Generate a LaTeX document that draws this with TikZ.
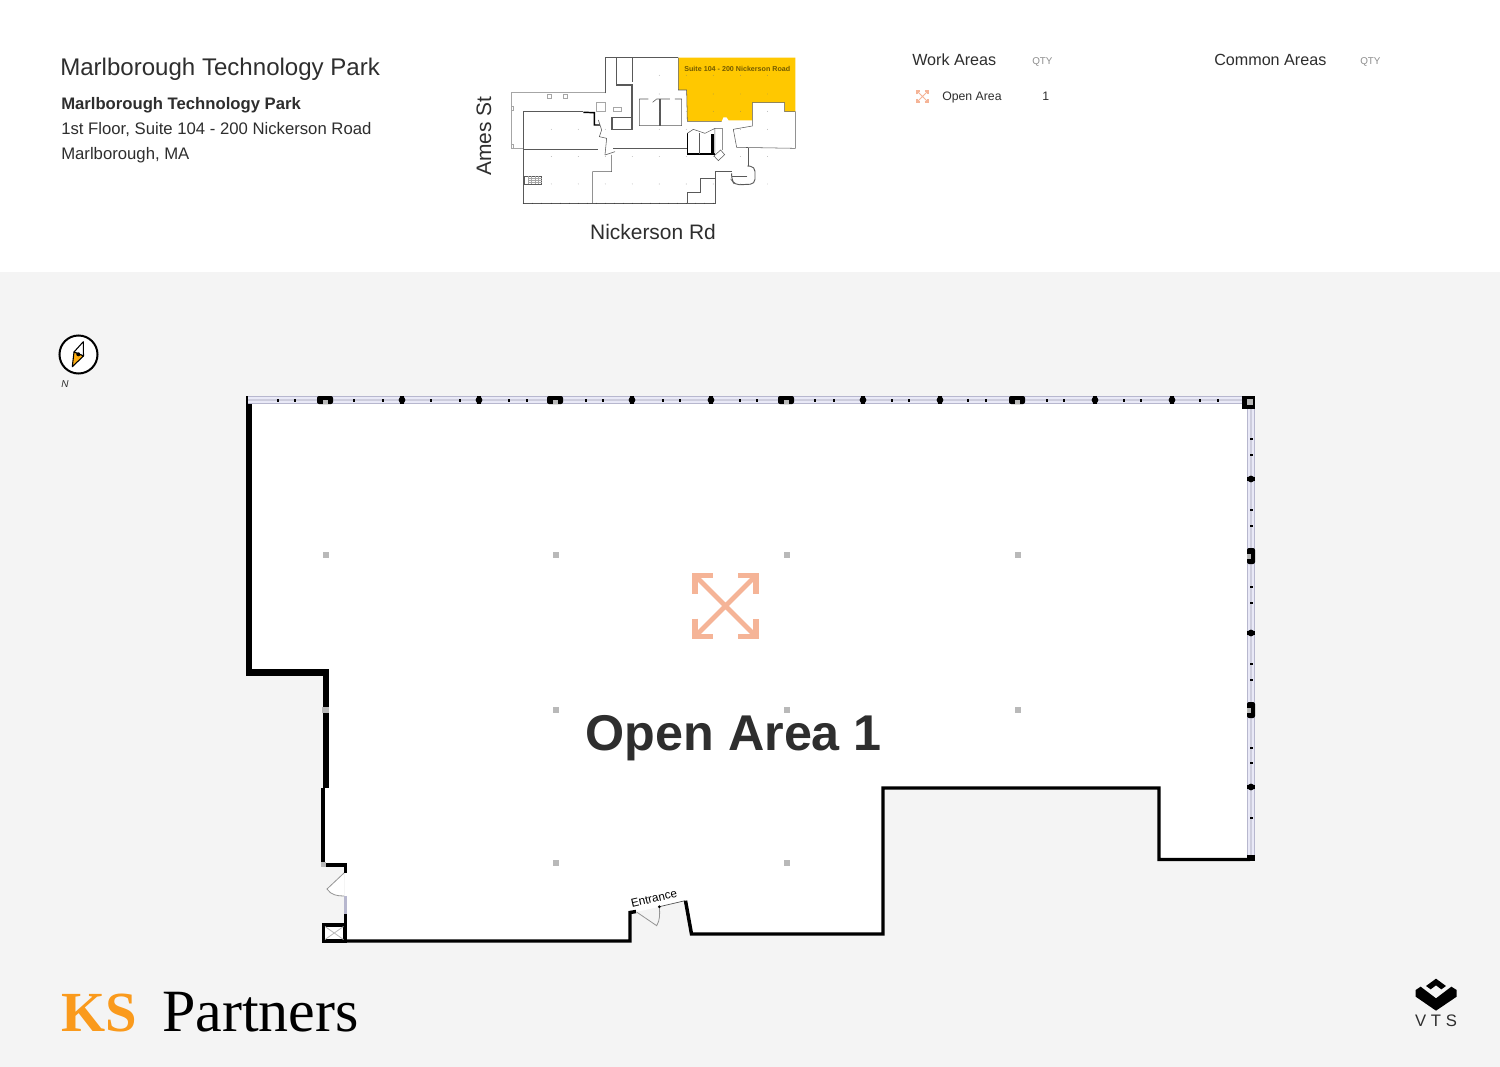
\documentclass[tikz,border=0pt]{standalone}
\usepackage{fontspec}
\setmainfont{Liberation Sans}
\newfontfamily\logofont{Liberation Serif}
\usetikzlibrary{positioning}
\definecolor{pagegrey}{HTML}{F4F4F4}
\definecolor{inkgrey}{HTML}{2E2E2E}
\definecolor{qtygrey}{HTML}{8C8C8C}
\definecolor{columngrey}{HTML}{B9B9B9}
\definecolor{glasslight}{HTML}{E9E9F7}
\definecolor{glassdark}{HTML}{B7B7CE}
\definecolor{iconpeach}{HTML}{F5B497}
\definecolor{suiteyellow}{HTML}{FFC800}
\definecolor{logoorange}{HTML}{FA9A1C}
\tikzset{
  cross width/.store in=\crosswidth,
  cross width=3.5pt,
  openicon/.pic={
    \draw[iconpeach] (-30.5,-12.5) -- (-30.5,-30.5) -- (-12.5,-30.5);
    \draw[iconpeach] (12.5,-30.5) -- (30.5,-30.5) -- (30.5,-12.5);
    \draw[iconpeach] (-30.5,12.5) -- (-30.5,30.5) -- (-12.5,30.5);
    \draw[iconpeach] (12.5,30.5) -- (30.5,30.5) -- (30.5,12.5);
    \draw[iconpeach,line width=\crosswidth] (-29,-29) -- (29,29) (-29,29) -- (29,-29);
  }
}
\begin{document}
\begin{tikzpicture}
[x=0.75pt,y=-0.75pt,
 label text/.style={anchor=base west,inner sep=0pt,text=inkgrey},
 title text/.style={label text,font=\fontsize{18.05}{20}\selectfont},
 address text/.style={label text,font=\fontsize{12.53}{15}\selectfont},
 head text/.style={label text,font=\fontsize{12.1}{15}\selectfont},
 qty text/.style={label text,text=qtygrey,font=\fontsize{7.4}{9}\selectfont},
 row text/.style={label text,font=\fontsize{9.2}{11}\selectfont},
 road text/.style={inner sep=0pt,text=inkgrey,font=\fontsize{15.7}{18}\selectfont},
 wall/.style={line width=4.6pt,line join=miter,black},
 thin wall/.style={line width=2.6pt,line join=miter,black},
 column/.style={fill=columngrey},
 mini line/.style={line width=0.4pt,black!65},
 mini grey/.style={line width=0.35pt,black!35},
 mini thick/.style={line width=1.1pt,black}]
\path[use as bounding box,fill=pagegrey] (0,0) rectangle (1500,1067);
\fill[white] (0,0) rectangle (1500,272);

\node[title text] (title) at (60,75) {Marlborough Technology Park};
\node[address text,font=\bfseries\fontsize{12.5}{15}\selectfont] (building) at (61,109) {Marlborough Technology Park};
\node[address text] (suite) at (61,134) {1st Floor, Suite 104 - 200 Nickerson Road};
\node[address text] (city) at (61,159) {Marlborough, MA};

\node[head text] (workhead) at (912,65) {Work Areas};
\node[qty text] (workqty) at (1032,64.5) {QTY};
\node[row text] (openrow) at (942,100) {Open Area};
\node[row text] (openqty) at (1042,100) {1};
\pic[scale=0.18,line width=0.8pt,cross width=0.6pt] at (922.5,96.5) {openicon};
\node[head text] (commonhead) at (1214,65) {Common Areas};
\node[qty text] (commonqty) at (1360,64.5) {QTY};

\begin{scope}[shift={(460,40)},scale=0.3333]
\fill[suiteyellow] (655,53) -- (1006,53) -- (1006,215) -- (974,215) -- (974,188) -- (877,188) -- (877,241)
  -- (806,241) -- (800,232) -- (790,232) -- (785,244) -- (682,244) -- (680,150) -- (655,150) -- cycle;
\draw[mini line] (655,53) -- (655,150) -- (680,150) -- (682,244) -- (785,244);
\draw[mini line] (877,241) -- (877,188) -- (974,188) -- (974,215) -- (1006,215) -- (1006,325) -- (830,322) -- (820,268) -- (877,258) -- (877,241);
\draw[mini grey] (435,158) -- (155,158) -- (155,325) -- (190,325);
\draw[mini grey] (262,163) rectangle (274,175) (310,163) rectangle (322,175) (155,200) rectangle (161,212) (155,314) rectangle (161,325);
\draw[mini line] (190,215) -- (370,215);
\draw[mini line] (190,215) -- (190,490) -- (765,490) -- (765,415);
\draw[mini line] (190,327) -- (415,327) (460,325) -- (680,325);
\draw[mini thick] (370,217) -- (403,218) -- (403,255) -- (420,255);
\draw[mini line,line width=0.8pt] (436,160) -- (436,53) -- (520,53) (518,53) -- (518,125) (470,53) -- (470,135) -- (518,135);
\draw[mini line] (518,53) -- (655,53);
\draw[mini line] (538,177) -- (565,177) (578,187) -- (590,177) -- (630,177) (645,177) -- (665,177) -- (665,257) -- (538,257) -- (538,177);
\draw[mini line,line width=0.8pt] (600,177) -- (600,257);
\draw[mini line] (456,232) -- (516,232);
\draw[mini line,line width=0.8pt] (516,135) -- (516,268) -- (456,268) -- (456,232);
\draw[mini grey] (410,187) rectangle (435,213) (460,202) rectangle (485,213);
\draw[mini line] (415,240) -- (425,270) -- (418,290) -- (440,295) -- (435,345);
\draw[mini line] (435,345) -- (465,335) (398,490) -- (398,395) -- (455,395) -- (455,345);
\draw[mini thick] (682,280) -- (682,342) -- (765,342);
\draw[mini line,line width=0.8pt] (718,280) -- (718,342);
\draw[black,line width=2.2pt] (757,283) -- (757,342);
\draw[mini line] (682,280) -- (700,268) -- (735,280) -- (765,265) -- (787,265) -- (787,330) (765,265) -- (765,342);
\draw[mini line] (762,348) -- (782,330) -- (794,344) -- (775,362) -- cycle;
\draw[mini line] (682,490) -- (682,458) -- (722,458) -- (722,415) -- (765,415);
\draw[mini line] (765,395) -- (765,415) (765,395) -- (815,395);
\draw[mini line] (865,325) -- (865,378) (862,410) -- (815,410);
\draw[mini line,line width=0.7pt,rounded corners=3.5pt] (862,378) -- (885,380) -- (885,432) -- (825,435) -- (815,420) -- (815,400);
\draw[mini line] (192,408) rectangle (245,432);
\foreach \yy in {414,420,426} \draw[mini grey] (205,\yy) -- (245,\yy);
\foreach \xx in {205,215,225,235} \draw[mini grey] (\xx,408) -- (\xx,432);
\foreach \xx in {274,355,436,517,598,679,760,842,923}
  \foreach \yy in {268,350,432}
    \fill[black!55] (\xx,\yy) circle (1);
\foreach \xx in {598,679,760,842,923}
  \foreach \yy in {106,162,214}
    \fill[black!55] (\xx,\yy) circle (1);
\foreach \xx in {190,217,244,274,301,328,355,382,409,436,463,490,517,544,571,598,625,652,679,706,733,760}
  \fill[black!80] (\xx,490) circle (1.3);
\node[inner sep=0pt,text=black!55!suiteyellow,font=\bfseries\fontsize{5.35}{6}\selectfont] (suitelabel) at (832,87) {Suite 104 - 200 Nickerson Road};
\end{scope}
\node[road text,rotate=90] (amesst) at (484,136) {Ames St};
\node[road text] (nickerson) at (653,232) {Nickerson Rd};

\fill[white] (246,396) -- (1255,396) -- (1255,860) -- (1159,860) -- (1159,788) -- (883,788) -- (883,934) -- (691,934)
  -- (685,901) -- (636,912) -- (630,912) -- (630,941) -- (345,941) -- (345,865) -- (323,865) -- (323,788) -- (326,788)
  -- (326,672) -- (246,672) -- cycle;

\foreach \xpos in {326,556,787,1018} \fill[column] (\xpos-3,552) rectangle (\xpos+3,558);
\foreach \xpos in {556,787,1018} \fill[column] (\xpos-3,707) rectangle (\xpos+3,713);
\foreach \xpos in {556,787} \fill[column] (\xpos-3,860) rectangle (\xpos+3,866);

\fill[glasslight] (246,396) rectangle (1255,404);
\fill[glasslight] (1247,396) rectangle (1255,860);
\draw[glassdark,line width=1.1pt] (246,396.7) -- (1254.3,396.7) -- (1254.3,860);
\draw[glassdark,line width=1.1pt] (246,403.3) -- (1247.7,403.3) -- (1247.7,860);
\draw[glassdark!70,line width=1pt] (246,400) -- (1251,400) -- (1251,860);
\foreach \xpos in {278,295,354,383,431,460,509,527,586,603,663,680,740,757,815,834,892,909,968,986,1047,1064,1124,1141,1200,1218}
  \fill[black] (\xpos-0.9,398.5) rectangle (\xpos+0.9,401.5);
\foreach \ypos in {439,455,510,526,587,603,664,680,748,763,818}
  \fill[black] (1249.5,\ypos-0.9) rectangle (1252.5,\ypos+0.9);
\foreach \xpos in {402,479,632,711,863,940,1095,1172} {
  \fill[black] (\xpos,400) circle (3.4);
  \fill[black] (\xpos-1.8,396) rectangle (\xpos+1.8,404);
}
\foreach \ypos in {479,633,787} {
  \fill[black] (1251,\ypos) circle (3.4);
  \fill[black] (1247,\ypos-1.8) rectangle (1255,\ypos+1.8);
}
\foreach \xpos in {325,555,786,1017} {
  \fill[black,rounded corners=1.5pt] (\xpos-8,396) rectangle (\xpos+8,404);
  \fill[column] (\xpos-2.5,400) rectangle (\xpos+2.5,404);
}
\foreach \ypos in {556,710} {
  \fill[black,rounded corners=1.5pt] (1247,\ypos-8) rectangle (1255,\ypos+8);
  \fill[column] (1247,\ypos-2.5) rectangle (1250.5,\ypos+2.5);
}
\fill[black] (1242,396) rectangle (1255,409);
\fill[column] (1247,399) rectangle (1253,404.5);
\fill[black] (245.5,396) rectangle (248,404);

\draw[wall] (249,404) -- (249,672.5) -- (326,672.5) -- (326,788);
\fill[column] (322,707) rectangle (329,713);
\draw[thin wall] (323,788) -- (323,865) -- (345.5,865) -- (345.5,873);
\fill[column] (320.5,862) rectangle (326,867);
\draw[columngrey!80!black,line width=0.6pt,fill=white] (344,873) -- (327,889) .. controls (331,895) and (337,896) .. (344,896);
\draw[glassdark,line width=2.4pt] (345.5,896) -- (345.5,914);
\draw[thin wall] (345.5,914) -- (345.5,941);
\draw[thin wall,fill=white] (323.5,925) rectangle (345,941);
\draw[columngrey,line width=0.6pt] (325,926.5) -- (343.5,939.5) (343.5,926.5) -- (325,939.5);
\draw[thin wall] (345,941) -- (630,941) -- (630,912.5) -- (636,911.5);
\draw[columngrey!80!black,line width=0.6pt] (637,912.3) -- (656.7,925.7) .. controls (660,920) and (660,914) .. (659.3,906.7);
\draw[black!70,line width=0.5pt] (659.3,906.7) -- (685,900.7);
\fill[black] (659.3,906.7) circle (1.5);
\draw[thin wall] (685.5,900.7) -- (691.5,934) -- (883,934) -- (883,788) -- (1159,788) -- (1159,859.5) -- (1250,859.5);
\fill[black] (1247,855) rectangle (1255,861);
\node[inner sep=0pt,rotate=13,font=\fontsize{8.8}{10}\selectfont,text=black] (entrance) at (654,898.5) {Entrance};

\pic[line width=4.3pt,cross width=3.5pt] at (725.5,606) {openicon};
\node[label text,font=\bfseries\fontsize{37.7}{44}\selectfont] (openarea) at (585.5,750) {Open Area 1};

\node[circle,draw=black,fill=white,line width=1.5pt,minimum size=28.5pt,inner sep=0pt] (compass) at (78.5,354.5) {};
\draw[black,line width=0.8pt,fill=white,line join=round] (83.3,341.7) -- (83.5,356) -- (74,352) -- cycle;
\draw[black,line width=0.8pt,fill=logoorange!60!suiteyellow,line join=round] (72.3,366.7) -- (83.5,356) -- (74,352) -- cycle;
\fill[black] (78.3,354.3) circle (2);
\node[inner sep=0pt,font=\itshape\fontsize{7.5}{9}\selectfont,text=inkgrey] (north) at (65,384) {N};

\node[label text,text=logoorange,font=\logofont\bfseries\fontsize{42.5}{50}\selectfont] (logoks) at (61,1031) {KS};
\node[label text,text=black,font=\logofont\fontsize{45}{52}\selectfont] (logopartners) at (162,1031) {Partners};

\begin{scope}[shift={(1400,970)},scale=0.3333]
\fill[black] (78,48) -- (108,26) -- (138,48) -- (124,58) -- (108,46) -- (92,58) -- cycle;
\fill[black] (47,60) -- (62,50) -- (108,85) -- (154,50) -- (170,60) -- (170,80) -- (108,122) -- (47,80) -- cycle;
\end{scope}
\node[inner sep=0pt,anchor=base,text=inkgrey,font=\addfontfeature{LetterSpace=28}\fontsize{12.5}{15}\selectfont] (vts) at (1436,1026) {VTS};
\end{tikzpicture}
\end{document}
